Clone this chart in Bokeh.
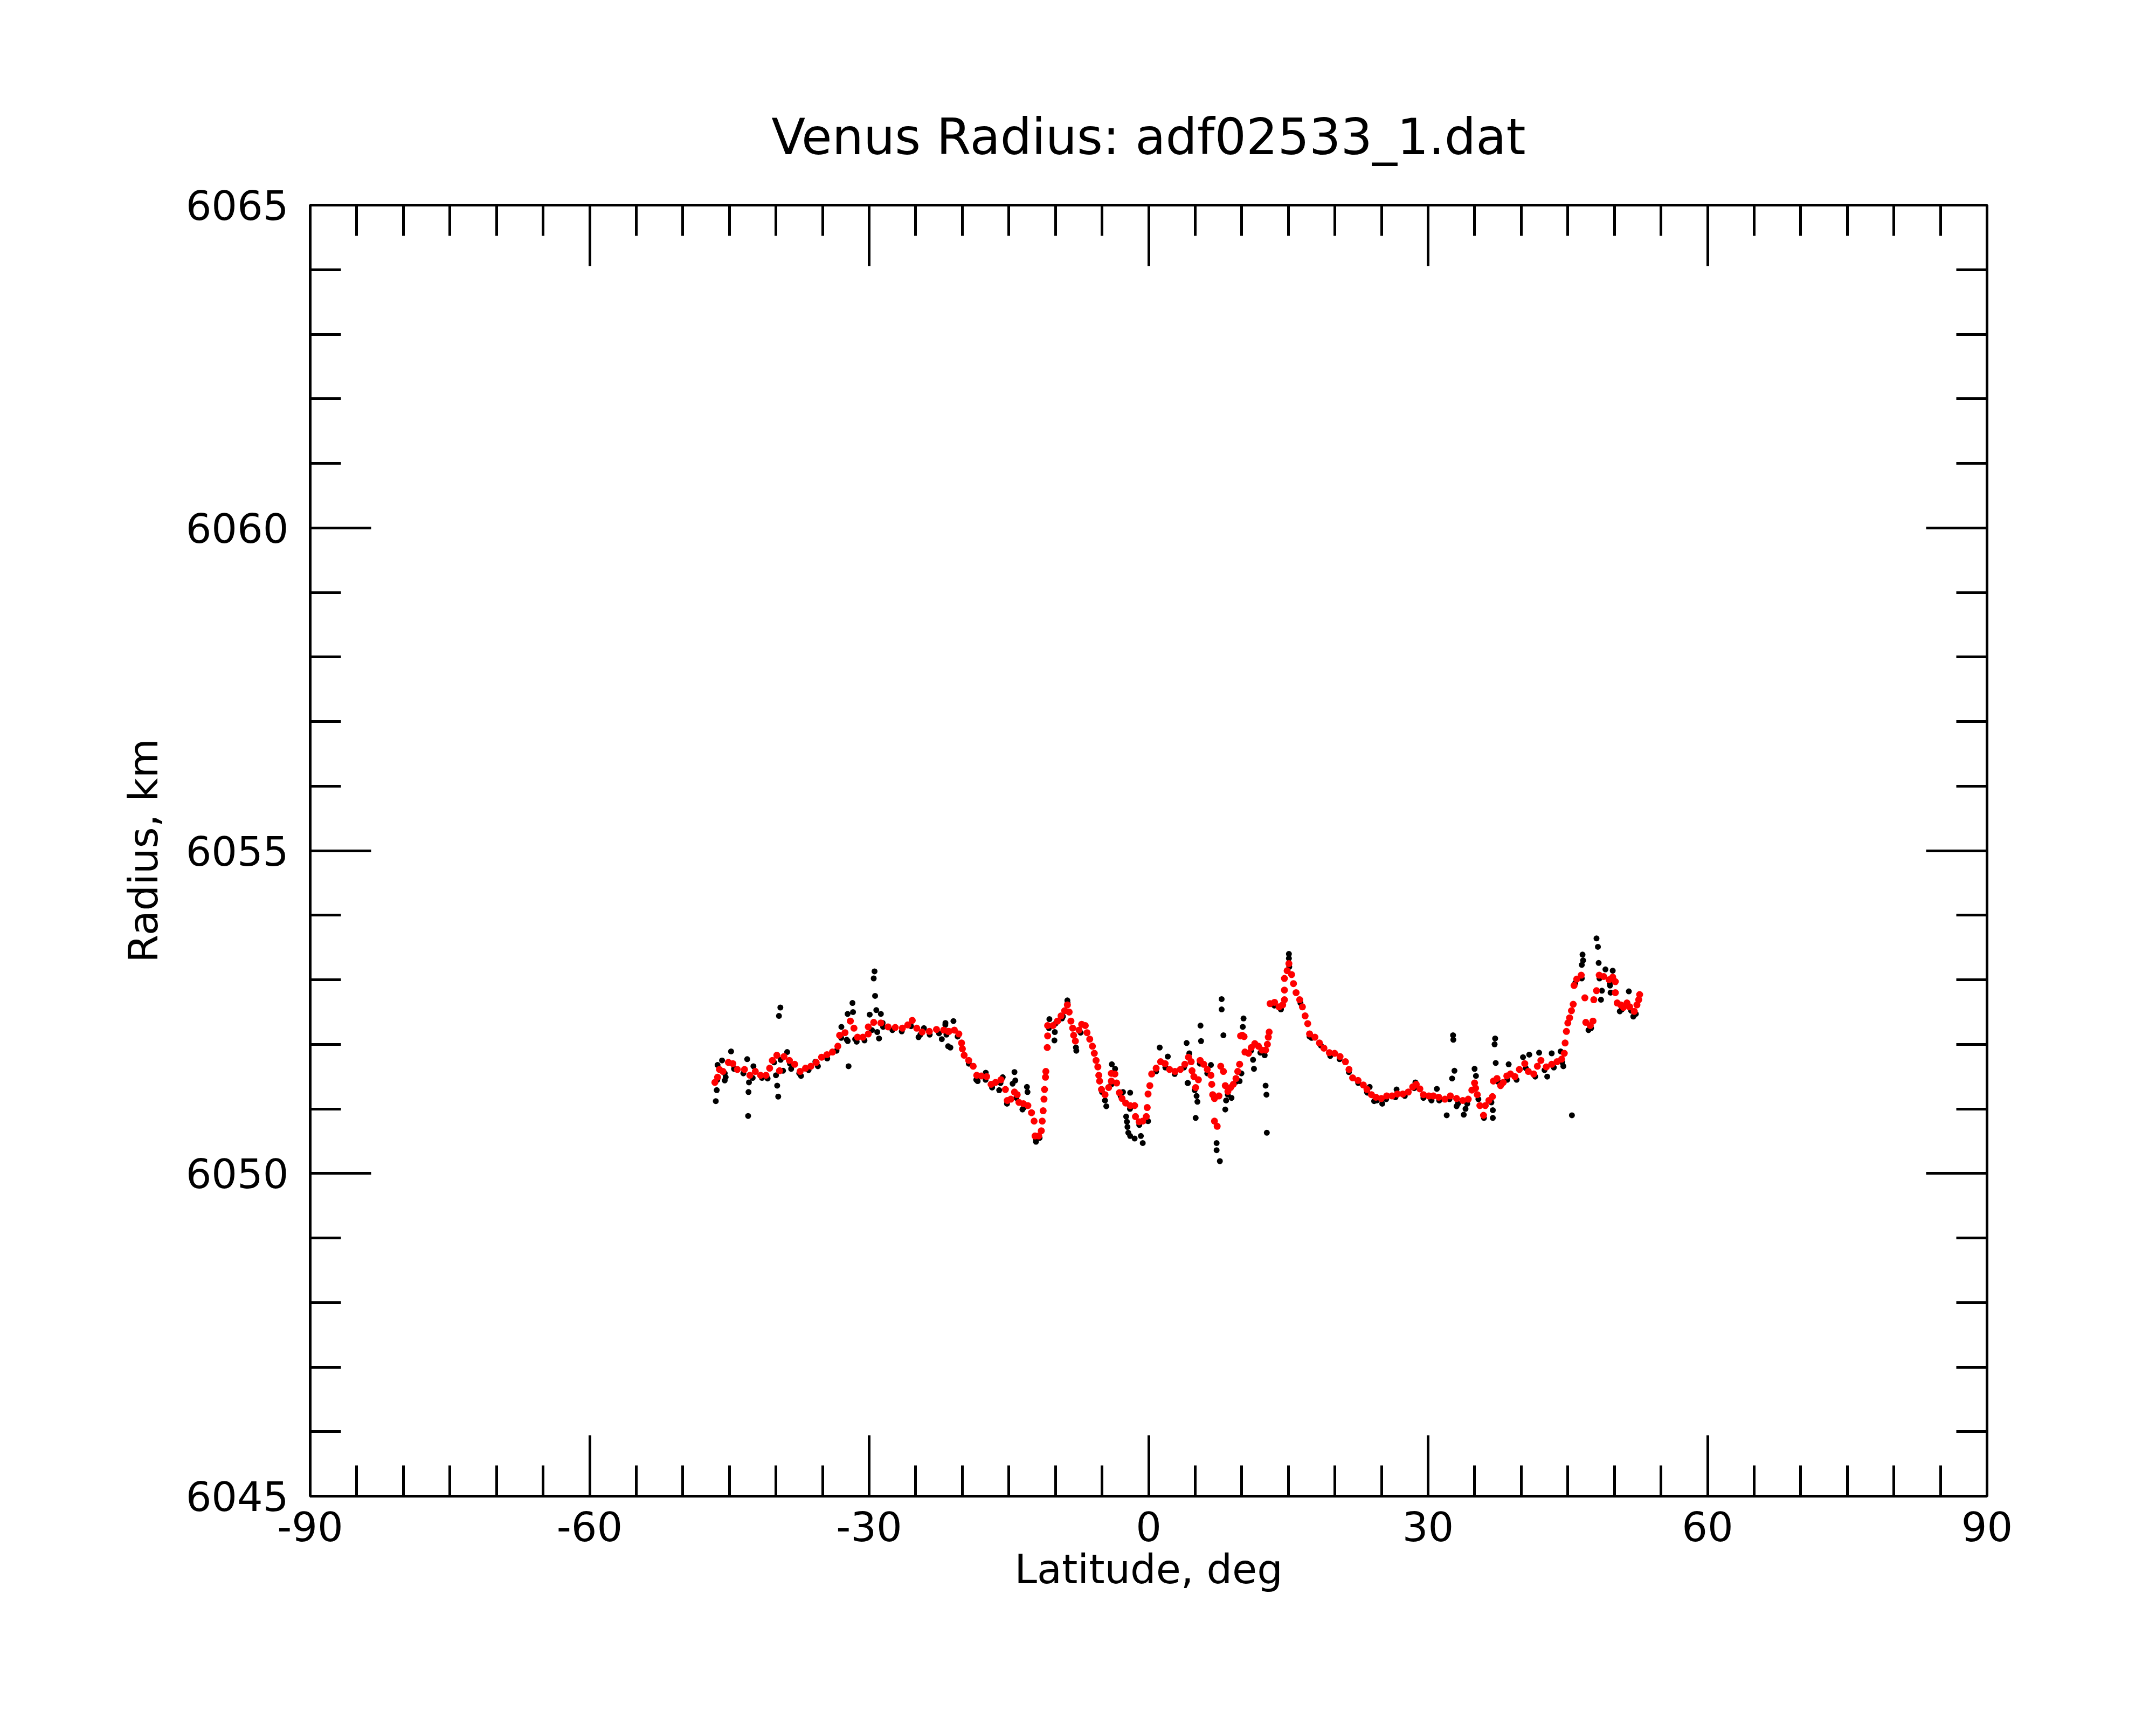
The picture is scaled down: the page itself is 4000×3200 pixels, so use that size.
from bokeh.plotting import figure
from bokeh.models import LinearAxis, FixedTicker, Range1d, CustomJSTickFormatter
from bokeh.embed import file_html
from bokeh.resources import INLINE

# ---------------- data ----------------
title_text = "Venus Radius: adf02533_1.dat"
x_label = "Latitude, deg"
y_label = "Radius, km"
x_major = [-90, -60, -30, 0, 30, 60, 90]
x_minor = list(range(-90, 91, 5))
y_major = [6045, 6050, 6055, 6060, 6065]
y_minor = list(range(6045, 6066, 1))

# smoothed radius (red)
red_lat = [
    -46.56, -46.27, -46.07, -45.69, -45.11, -44.63, -44.15, -43.38, -42.80, -42.22,
    -41.65, -41.07, -40.68, -40.39, -39.91, -39.62, -39.14, -38.56, -37.99, -37.41,
    -36.83, -36.25, -35.68, -35.10, -34.52, -33.94, -33.36, -33.17, -32.59, -32.02,
    -31.63, -31.25, -30.67, -30.09, -30.09, -29.51, -28.74, -27.97, -27.20, -26.43,
    -25.85, -25.37, -24.89, -24.31, -23.54, -22.77, -22.00, -21.52,
    -21.43, -20.85, -20.37, -20.08, -19.99, -19.80, -19.31, -18.83, -18.45, -17.97,
    -17.39, -16.91, -16.43, -15.85, -15.37, -15.17, -14.79, -14.40, -14.11, -13.92,
    -13.44, -12.96, -12.57, -12.29, -12.19, -11.80, -11.52, -11.42, -11.32, -11.23,
    -11.17, -11.07, -11.03, -10.88, -10.84, -10.84, -10.26, -9.78, -9.40, -9.01,
    -8.72, -8.53, -8.34, -8.15, -8.05, -7.86, -7.47, -7.18, -6.80, -6.61,
    -6.32, -6.03, -5.83, -5.64, -5.45, -5.35, -5.26, -5.06, -4.68, -4.29,
    -4.00, -4.00, -3.62, -3.43, -3.14, -2.85, -2.46, -1.98, -1.50, -1.41,
    -1.02, -0.63, -0.25, -0.15, -0.06, 0.13, 0.33, 0.81, 1.29, 1.77,
    2.25, 2.83, 3.41, 3.89, 4.28, 4.57, 4.66, 4.86, 5.05, 5.34,
    5.53, 5.92, 6.30, 6.69, 6.78, 6.88, 7.07, 7.55, 7.07, 7.36,
    7.74, 8.03, 8.23, 8.51, 8.80, 9.09, 9.38, 9.57, 9.77, 9.87,
    10.06, 10.25, 10.34, 10.73, 11.02, 11.40, 11.79, 12.17, 12.56, 12.75,
    12.85, 12.94, 13.04, 13.52, 14.00, 14.39, 14.58, 14.58, 14.58, 14.87,
    15.06, 15.35, 15.55, 15.83, 16.22, 16.51, 16.80, 17.08, 17.28, 17.85,
    18.34, 18.82, 19.40, 19.97, 20.55, 21.13, 21.51, 21.90, 22.48, 23.05,
    23.44, 23.92, 24.40, 24.98, 25.56, 26.13, 26.71, 27.29, 27.87, 28.35,
    28.73, 29.12, 29.50, 30.08, 30.56, 31.14, 31.81, 32.39, 33.06, 33.73,
    34.31, 34.70, 34.99, 35.10, 35.28, 35.56, 35.95, 36.14, 36.53, 36.91,
    37.01, 37.40, 37.78, 38.07, 38.45, 38.84, 39.32, 39.80, 40.38, 40.76,
    41.34, 41.73, 42.11, 42.69, 43.27, 43.84, 44.33, 44.62, 44.71, 44.85,
    45.00, 45.19, 45.39, 45.58, 45.67, 45.96, 46.44, 46.83, 46.93, 47.41,
    47.70, 47.79, 48.08, 48.37, 48.85, 49.43, 49.82, 50.10, 50.10, 50.30,
    50.68, 50.97, 51.35, 51.64, 52.13, 52.42, 52.61, 52.71,
]
red_rad = [
    6051.41, 6051.49, 6051.61, 6051.58, 6051.72, 6051.70, 6051.61, 6051.61, 6051.52, 6051.58,
    6051.52, 6051.52, 6051.63, 6051.75, 6051.83, 6051.59, 6051.81, 6051.75, 6051.69, 6051.58,
    6051.63, 6051.66, 6051.72, 6051.80, 6051.84, 6051.88, 6051.97, 6052.14, 6052.18, 6052.36,
    6052.25, 6052.11, 6052.11, 6052.16, 6052.27, 6052.34, 6052.33, 6052.27, 6052.26, 6052.25,
    6052.30, 6052.37, 6052.25, 6052.19, 6052.20, 6052.23, 6052.22, 6052.20,
    6052.20, 6052.22, 6052.16, 6052.02, 6051.93, 6051.83, 6051.75, 6051.66, 6051.52, 6051.51,
    6051.50, 6051.38, 6051.41, 6051.45, 6051.30, 6051.13, 6051.15, 6051.26, 6051.22, 6051.10,
    6051.08, 6051.05, 6050.94, 6050.81, 6050.58, 6050.58, 6050.66, 6050.81, 6050.97, 6051.15,
    6051.30, 6051.49, 6051.58, 6051.95, 6052.13, 6052.29, 6052.29, 6052.36, 6052.44, 6052.52,
    6052.61, 6052.50, 6052.36, 6052.25, 6052.14, 6052.05, 6052.22, 6052.31, 6052.29, 6052.18,
    6052.08, 6051.97, 6051.86, 6051.75, 6051.65, 6051.52, 6051.43, 6051.30, 6051.22, 6051.33,
    6051.43, 6051.55, 6051.54, 6051.40, 6051.25, 6051.16, 6051.09, 6051.05, 6051.05, 6050.88,
    6050.80, 6050.81, 6050.88, 6051.02, 6051.23, 6051.36, 6051.54, 6051.63, 6051.73, 6051.70,
    6051.61, 6051.58, 6051.61, 6051.69, 6051.80, 6051.73, 6051.59, 6051.50, 6051.33, 6051.45,
    6051.75, 6051.69, 6051.61, 6051.52, 6051.38, 6051.22, 6051.16, 6051.20, 6050.81, 6050.73,
    6051.66, 6051.58, 6051.36, 6051.27, 6051.33, 6051.38, 6051.47, 6051.58, 6051.69, 6052.13,
    6052.14, 6052.12, 6051.88, 6051.86, 6051.95, 6052.01, 6051.97, 6051.91, 6051.91, 6052.00,
    6052.11, 6052.19, 6052.63, 6052.65, 6052.58, 6052.61, 6052.69, 6052.84, 6053.02, 6053.14,
    6053.25, 6053.08, 6052.94, 6052.80, 6052.69, 6052.58, 6052.44, 6052.32, 6052.16, 6052.11,
    6052.02, 6051.94, 6051.87, 6051.86, 6051.81, 6051.73, 6051.61, 6051.48, 6051.44, 6051.37,
    6051.30, 6051.22, 6051.18, 6051.16, 6051.20, 6051.20, 6051.23, 6051.23, 6051.26, 6051.34,
    6051.38, 6051.31, 6051.22, 6051.20, 6051.20, 6051.18, 6051.15, 6051.20, 6051.16, 6051.13,
    6051.15, 6051.29, 6051.40, 6051.32, 6051.22, 6051.05, 6050.90, 6051.05, 6051.13, 6051.19,
    6051.43, 6051.47, 6051.36, 6051.41, 6051.51, 6051.54, 6051.50, 6051.61, 6051.70, 6051.58,
    6051.54, 6051.66, 6051.75, 6051.65, 6051.69, 6051.73, 6051.77, 6051.86, 6052.02, 6052.20,
    6052.33, 6052.41, 6052.52, 6052.62, 6052.91, 6053.01, 6053.07, 6052.72, 6052.34, 6052.29,
    6052.36, 6052.69, 6052.83, 6053.07, 6053.05, 6053.00, 6053.04, 6052.97, 6052.80, 6052.64,
    6052.61, 6052.57, 6052.64, 6052.58, 6052.51, 6052.61, 6052.69, 6052.77,
]

# raw radius samples (black)
black_lat = [
    -46.30, -45.50, -44.50, -43.50, -42.50, -41.50, -40.90, -40.20, -39.50, -38.50,
    -37.50, -36.50, -35.50, -34.50, -33.50, -33.00, -32.30, -31.50, -30.50, -29.70,
    -28.50, -27.50, -26.50, -25.50, -24.50, -23.50, -22.50, -21.70, -20.50, -19.30,
    -18.50, -17.50, -16.80, -15.90, -15.20, -14.20, -13.40, -12.10, -11.70, -10.70,
    -10.00, -9.30, -8.70, -7.80, -7.30, -5.00, -4.00, -3.60, -3.00, -2.00,
    -1.00, -0.30, 0.80, 1.80, 2.80, 3.80, 5.50, 6.30, 8.50, 9.40,
    11.00, 12.00, 13.50, 14.20, 15.10, 16.30, 17.50, 18.50, 19.50, 20.50,
    21.50, 22.50, 23.50, 24.50, 25.50, 26.50, 27.50, 28.50, 29.50, 30.30,
    31.20, 32.30, 33.20, 34.20, 35.40, 36.00, 36.80, 37.50, 38.50, 39.50,
    40.50, 41.50, 42.50, 43.50, 44.40, 45.80, 46.50, 47.50, 48.40, 49.50,
    50.80, 51.80, 52.30,
    -46.46, -46.36, -46.27, -45.79, -45.40, -45.50, -44.82, -43.09, -42.42, -42.90,
    -42.95, -42.99, -39.53, -39.68, -40.00, -39.87, -39.76, -39.24, -38.80, -38.37,
    -37.31, -35.77, -32.98, -32.21, -31.79, -31.73, -32.31, -32.40, -31.34, -29.94,
    -29.42, -29.51, -29.36, -29.23, -28.74, -29.13, -28.94, -28.55, -24.70, -24.12,
    -22.20, -21.81, -21.52,
    -21.82, -20.95, -21.28, -18.35, -17.48, -16.04, -15.66, -14.40, -14.31, -14.60,
    -13.06, -13.00, -13.54, -12.09, -10.65, -10.07, -10.11, -8.72, -9.20, -7.76,
    -3.95, -4.68, -4.54, -2.75, -1.98, -2.41, -2.33, -2.27, -2.18, -1.98,
    -1.50, -0.83, -0.63, -0.06, 1.19, 2.06, 4.08, 4.18,
    4.22, 5.57, 5.63, 4.37, 4.95, 5.15, 5.24, 5.05, 6.69, 7.84,
    7.84, 8.03, 7.30, 7.30, 7.65, 8.23, 8.32, 8.90, 9.77, 9.96,
    10.19, 10.11, 11.21, 11.31, 12.46, 12.56, 12.65, 12.69, 15.06, 15.06,
    14.20, 17.28, 23.44, 23.73, 24.21, 25.08, 26.62, 28.64, 30.37,
    30.94, 32.00, 32.68, 32.71, 32.83, 32.58, 33.06, 33.83, 34.02, 34.99,
    35.14, 37.20, 37.14, 37.26, 36.95, 36.95, 38.65, 40.19, 40.86, 41.92,
    42.79, 43.27, 44.23, 44.52, 45.44, 46.58, 46.64, 46.50, 48.08, 48.23,
    48.31, 49.04, 49.82, 49.53, 49.59, 48.56, 48.66, 51.55, 50.58, 52.03,
    47.22,
]
black_rad = [
    6051.45, 6051.55, 6051.62, 6051.55, 6051.48, 6051.48, 6051.47, 6051.72, 6051.76, 6051.70,
    6051.55, 6051.60, 6051.66, 6051.78, 6051.90, 6052.10, 6052.05, 6052.08, 6052.06, 6052.22,
    6052.27, 6052.22, 6052.20, 6052.28, 6052.15, 6052.15, 6052.17, 6052.15, 6052.12, 6051.70,
    6051.45, 6051.45, 6051.33, 6051.40, 6051.08, 6051.17, 6051.02, 6050.53, 6050.55, 6052.25,
    6052.32, 6052.40, 6052.64, 6051.95, 6052.18, 6051.26, 6051.38, 6051.62, 6051.20, 6051.00,
    6050.75, 6050.82, 6051.58, 6051.64, 6051.54, 6051.64, 6051.70, 6051.55, 6051.22, 6051.42,
    6051.90, 6051.87, 6052.60, 6052.55, 6053.20, 6052.64, 6052.10, 6051.98, 6051.82, 6051.77,
    6051.57, 6051.40, 6051.25, 6051.13, 6051.15, 6051.18, 6051.20, 6051.32, 6051.17, 6051.15,
    6051.13, 6051.15, 6051.08, 6051.08, 6051.15, 6050.86, 6051.10, 6051.42, 6051.45, 6051.45,
    6051.63, 6051.50, 6051.60, 6051.64, 6051.72, 6052.95, 6053.02, 6052.25, 6053.02, 6052.95,
    6052.54, 6052.52, 6052.47,
    6051.12, 6051.29, 6051.68, 6051.75, 6051.49, 6051.44, 6051.89, 6051.77, 6051.66, 6051.41,
    6051.26, 6050.89, 6052.57, 6052.44, 6051.52, 6051.36, 6051.19, 6051.59, 6051.88, 6051.62,
    6051.51, 6051.73, 6052.27, 6051.66, 6052.64, 6052.50, 6052.47, 6052.07, 6052.04, 6052.46,
    6053.13, 6053.02, 6052.75, 6052.53, 6052.47, 6052.19, 6052.09, 6052.33, 6052.11, 6052.25,
    6052.08, 6052.33, 6051.97,
    6052.30, 6052.36, 6051.95, 6051.43, 6051.56, 6051.29, 6051.49, 6051.57, 6051.44, 6051.39,
    6051.34, 6051.26, 6050.99, 6050.49, 6052.39, 6052.19, 6052.06, 6052.68, 6052.43, 6051.90,
    6051.69, 6051.13, 6051.04, 6051.26, 6051.25, 6050.88, 6050.80, 6050.72, 6050.63, 6050.58,
    6050.54, 6050.58, 6050.47, 6050.81, 6051.95, 6051.81, 6052.02, 6051.40,
    6051.40, 6052.29, 6052.05, 6051.86, 6051.29, 6051.20, 6051.11, 6050.86, 6051.68, 6052.70,
    6052.54, 6052.14, 6050.47, 6050.36, 6050.19, 6050.99, 6051.13, 6051.17, 6051.43, 6051.55,
    6052.40, 6052.27, 6051.76, 6051.62, 6051.83, 6051.36, 6051.22, 6050.63, 6053.40, 6053.33,
    6052.54, 6052.12, 6051.26, 6051.34, 6051.12, 6051.08, 6051.30, 6051.41, 6051.13,
    6051.31, 6050.90, 6052.14, 6052.07, 6051.59, 6051.47, 6051.04, 6050.91, 6051.00, 6051.62,
    6051.51, 6052.09, 6052.00, 6051.71, 6050.98, 6050.86, 6051.69, 6051.80, 6051.84, 6051.87,
    6051.50, 6051.86, 6051.89, 6051.66, 6050.90, 6053.39, 6053.30, 6053.23, 6053.64, 6053.51,
    6053.26, 6053.16, 6053.14, 6052.91, 6052.80, 6052.69, 6052.83, 6052.82, 6052.51, 6052.43,
    6052.22,
]

# ---------------- figure ----------------
FONT = "DejaVu Sans"
W, H = 3980, 3180
p = figure(width=W, height=H, output_backend="svg", toolbar_location=None,
           x_range=Range1d(-90, 90), y_range=Range1d(6045, 6065),
           min_border_left=575, min_border_right=W - 3686,
           min_border_top=380, min_border_bottom=H - 2775,
           background_fill_color="white", border_fill_color="white")
p.xgrid.visible = False
p.ygrid.visible = False
p.outline_line_color = "black"
p.outline_line_width = 5

p.title.text = title_text
p.title.align = "center"
p.title.text_font = FONT
p.title.text_font_size = "92px"
p.title.text_font_style = "normal"
p.title.text_color = "black"
p.title.standoff = 146

xt = FixedTicker(ticks=x_major, minor_ticks=x_minor)
yt = FixedTicker(ticks=y_major, minor_ticks=y_minor)
plain = CustomJSTickFormatter(code="return tick.toFixed(0);")


def style(ax):
    ax.axis_line_width = 5
    ax.axis_line_color = "black"
    ax.major_tick_line_width = 5
    ax.minor_tick_line_width = 5
    ax.major_tick_line_color = "black"
    ax.minor_tick_line_color = "black"
    ax.major_tick_in = 113
    ax.major_tick_out = 0
    ax.minor_tick_in = 57
    ax.minor_tick_out = 0
    ax.major_label_text_font = FONT
    ax.major_label_text_font_size = "75px"
    ax.major_label_text_color = "black"
    ax.axis_label_text_font = FONT
    ax.axis_label_text_font_size = "75px"
    ax.axis_label_text_font_style = "normal"
    ax.axis_label_text_color = "black"


xa = p.xaxis[0]
xa.ticker = xt
xa.formatter = plain
style(xa)
xa.axis_label = x_label
xa.major_label_standoff = 28
xa.axis_label_standoff = 5

ya = p.yaxis[0]
ya.ticker = yt
ya.formatter = plain
style(ya)
ya.axis_label = y_label
ya.major_label_standoff = 40
ya.axis_label_standoff = 32

blank = CustomJSTickFormatter(code="return '';")
top = LinearAxis(ticker=xt, formatter=blank)
style(top)
top.major_label_standoff = 0
top.major_label_text_font_size = "1px"
p.add_layout(top, "above")

right = LinearAxis(ticker=yt, formatter=blank)
style(right)
right.major_label_standoff = 0
right.major_label_text_font_size = "1px"
p.add_layout(right, "right")

p.scatter(black_lat, black_rad, size=11, color="black", line_color=None)
p.scatter(red_lat, red_rad, size=13, color="red", line_color=None)

open("out.html", "w").write(file_html(p, INLINE))
